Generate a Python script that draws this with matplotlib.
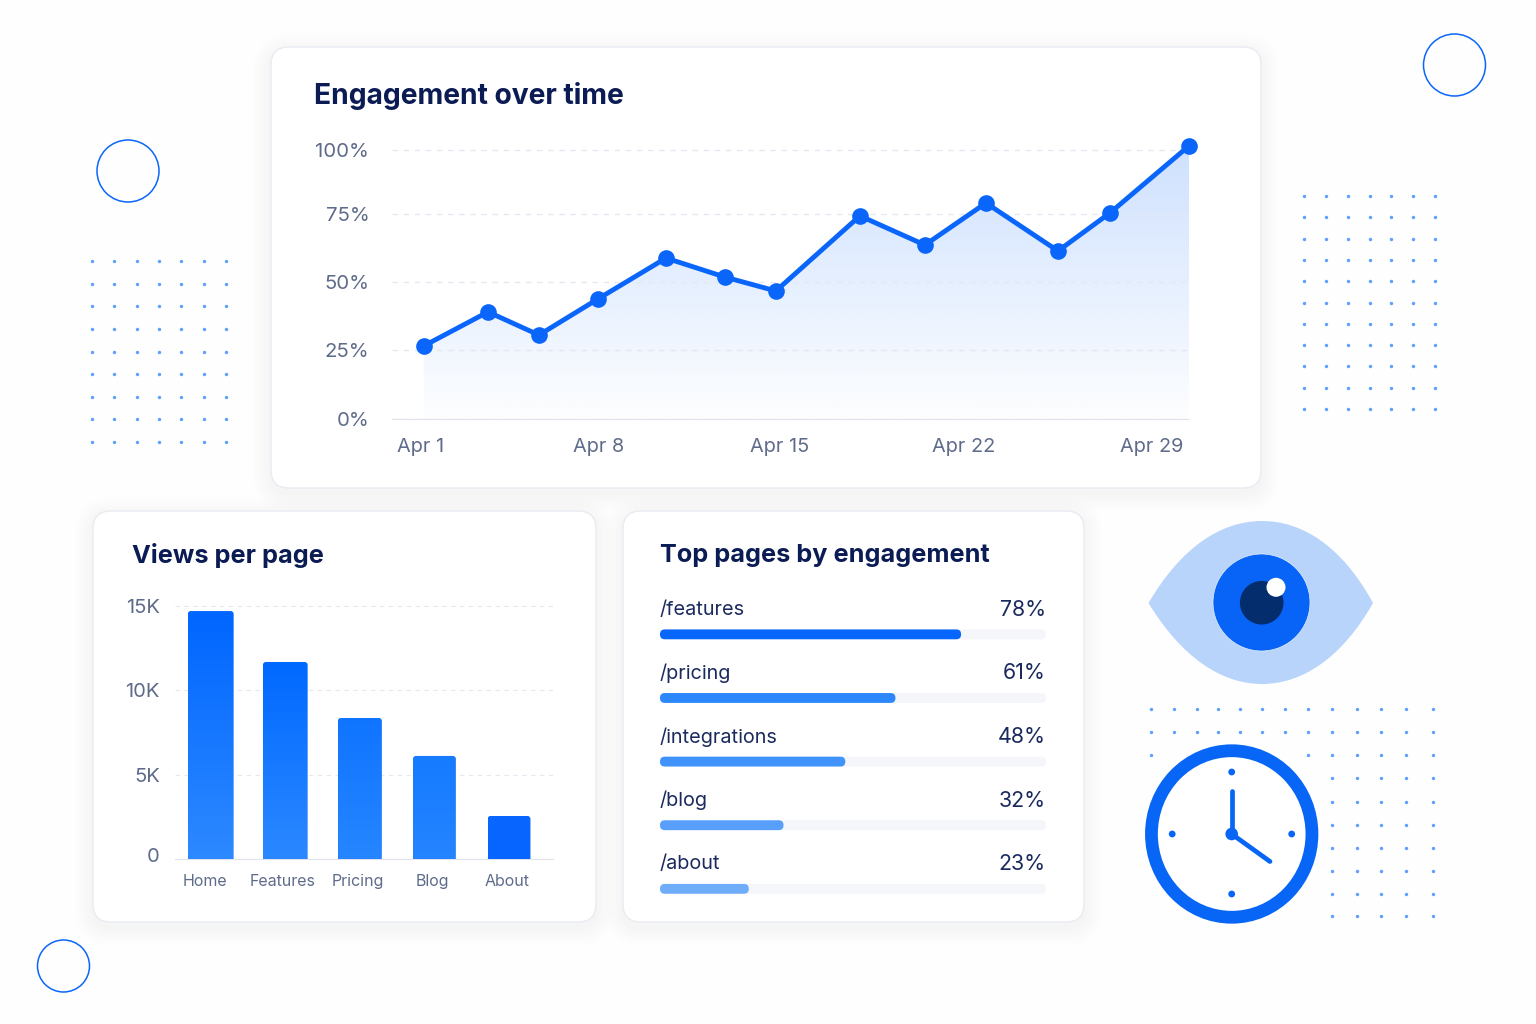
import numpy as np
import matplotlib
matplotlib.use("Agg")
import matplotlib.pyplot as plt
from matplotlib.colors import LinearSegmentedColormap, to_rgb
from matplotlib.patches import Circle, Ellipse, FancyBboxPatch, PathPatch
from matplotlib.path import Path
from matplotlib.transforms import ScaledTranslation

W, H = 1536, 1024

# engagement over time
days = [1.11, 3.57, 5.52, 7.78, 10.39, 12.65, 14.6, 17.82, 20.31, 22.65, 25.41, 27.4, 30.43]
engagement = [26.5, 39, 30.5, 43.75, 58.8, 51.8, 46.7, 74.3, 63.6, 79.3, 61.4, 75.4, 101.6]
date_ticks = [1, 7.82, 14.75, 21.8, 29]
date_labels = ["Apr 1", "Apr 8", "Apr 15", "Apr 22", "Apr 29"]
pct_ticks = [0, 25, 50, 75, 100]
pct_labels = ["0%", "25%", "50%", "75%", "100%"]

# views per page
pages = ["Home", "Features", "Pricing", "Blog", "About"]
views = [14700, 11680, 8360, 6110, 2550]
page_ticks = [-0.07, 0.98, 1.98, 2.98, 3.98]
view_ticks = [0, 5000, 10000, 15000]
view_labels = ["0", "5K", "10K", "15K"]

# top pages
routes = ["/features", "/pricing", "/integrations", "/blog", "/about"]
route_pct = [78, 61, 48, 32, 23]

BLUE = "#0a66fb"
NAVY = "#0b1c54"
MUTED = "#5f6b8a"
GRID = "#e4e8f1"

plt.rcParams["font.family"] = ["Inter", "DejaVu Sans"]


def px_axes(fig, left, top, right, bottom):
    ax = fig.add_axes([left / W, 1 - bottom / H, (right - left) / W, (bottom - top) / H])
    ax.patch.set_alpha(0)
    for s in ax.spines.values():
        s.set_visible(False)
    ax.tick_params(length=0)
    return ax


def round_box(ax, x0, y0, w, h, radius):
    # radius in pixels, corners stay circular whatever the data scales are
    x_per_px = abs(np.diff(ax.get_xlim())[0]) / ax.bbox.width
    y_per_px = abs(np.diff(ax.get_ylim())[0]) / ax.bbox.height
    return FancyBboxPatch((x0, y0), w, h,
                          boxstyle="round,pad=0,rounding_size=%f" % (radius * x_per_px),
                          mutation_aspect=y_per_px / x_per_px,
                          transform=ax.transData)


def card(ax, left, top, right, bottom):
    for k in range(9, 0, -1):
        ax.add_patch(FancyBboxPatch((left - k * 2, top - k * 2 + 5), right - left + k * 4, bottom - top + k * 4,
                                    boxstyle="round,pad=0,rounding_size=%d" % (18 + k * 2),
                                    fc="#27447f", ec="none", alpha=0.002, zorder=1))
    ax.add_patch(FancyBboxPatch((left, top), right - left, bottom - top,
                                boxstyle="round,pad=0,rounding_size=18",
                                fc="#ffffff", ec="#e8ebf2", lw=1.0, zorder=2))


def dots(ax, xs, ys, keep=None):
    xx, yy = np.meshgrid(xs, ys)
    if keep is not None:
        mask = keep(xx, yy)
        xx, yy = xx[mask], yy[mask]
    ax.scatter(xx.ravel(), yy.ravel(), s=6, color="#5f9fff", linewidths=0, zorder=1)


fig = plt.figure(figsize=(W / 100, H / 100), dpi=100, facecolor="#fefefe")

# page layer in pixel coordinates: cards, decoration, icons
bg = fig.add_axes([0, 0, 1, 1])
bg.set_xlim(0, W)
bg.set_ylim(H, 0)
bg.axis("off")

card(bg, 271, 47, 1261, 488)
card(bg, 93, 511, 596, 922)
card(bg, 623, 511, 1084, 922)

for cx, cy, r in [(1454.5, 65, 31), (128, 171, 31), (63.5, 966, 26)]:
    bg.add_patch(Circle((cx, cy), r, fc="none", ec=BLUE, lw=1.1, zorder=1))

dots(bg, np.linspace(92, 226, 7), np.linspace(261, 442, 9))
dots(bg, np.linspace(1304, 1435, 7), np.linspace(196, 409, 11))
dots(bg, [1150.7, 1174, 1197, 1218, 1240, 1262, 1285, 1308, 1332, 1357, 1381, 1406, 1433],
     [709, 732, 755, 778, 802, 825, 848, 871, 894, 916],
     keep=lambda x, y: ~((x < 1320) & (y > 765)) & ~((x > 1160) & (x < 1300) & (y > 745)))

# eye icon
eye_verts = [(1148.5, 603), (1182, 546), (1222, 521), (1262, 521),
             (1302, 521), (1342, 546), (1373, 603),
             (1342, 658), (1302, 684), (1262, 684),
             (1222, 684), (1182, 658), (1148.5, 603)]
eye_codes = [Path.MOVETO] + [Path.CURVE4] * 12
bg.add_patch(PathPatch(Path(eye_verts, eye_codes), fc="#b8d4fb", ec="none", zorder=3))
bg.add_patch(Circle((1261.5, 602.5), 48.5, fc="#0764f6", ec="#e4eefd", lw=0.5, zorder=4))
bg.add_patch(Circle((1261.7, 602.7), 21.8, fc="#042d6e", ec="none", zorder=5))
bg.add_patch(Circle((1276, 587.3), 9.5, fc="#ffffff", ec="none", zorder=6))

# clock icon, the ring is a little taller than wide
clock_x, clock_y = 1231.7, 834
bg.add_patch(Ellipse((clock_x, clock_y), 160.5, 166.5, fc="#ffffff", ec="#0766f6", lw=9.2, zorder=3))
for dx, dy in [(0, -62), (-59.5, 0), (60, 0), (0, 60)]:
    bg.add_patch(Circle((clock_x + dx, clock_y + dy), 3.4, fc="#0766f6", ec="none", zorder=4))
bg.plot([clock_x, clock_x], [clock_y, 791], color="#0766f6", lw=3.4, solid_capstyle="round", zorder=4)
bg.plot([clock_x, 1270], [clock_y, 861.5], color="#0766f6", lw=3.4, solid_capstyle="round", zorder=4)
bg.add_patch(Circle((clock_x, clock_y), 6.3, fc="#0766f6", ec="none", zorder=5))

# card titles
bg.text(314, 96, "Engagement over time", fontsize=20.3, fontweight="bold", color=NAVY, va="center", zorder=6)
bg.text(132, 555.5, "Views per page", fontsize=18.2, fontweight="bold", color=NAVY, va="center", zorder=6)
bg.text(659.5, 555.5, "Top pages by engagement", fontsize=18.2, fontweight="bold", color=NAVY, va="center", zorder=6)

# line chart, the y scale follows the spacing of the gridlines
y_val = [0, 25, 50, 75, 100, 200]
y_px = [0, 69, 137, 205, 269, 525]
ax1 = px_axes(fig, 392, 130, 1189, 419)
ax1.set_yscale("function", functions=(lambda v: np.interp(v, y_val, y_px),
                                      lambda p: np.interp(p, y_px, y_val)))
ax1.set_xlim(-0.11, 30.43)
ax1.set_ylim(0, 107.8)
ax1.set_yticks(pct_ticks, pct_labels)
ax1.set_xticks(date_ticks, date_labels)
ax1.minorticks_off()
ax1.tick_params(axis="y", pad=16.3, labelsize=14.7, labelcolor=MUTED)
ax1.tick_params(axis="x", pad=13.5, labelsize=14.3, labelcolor=MUTED)
ax1.grid(axis="y", color=GRID, lw=1.0, ls=(0, (4, 4)))
ax1.spines["bottom"].set_visible(True)
ax1.spines["bottom"].set_color("#dfe3ec")
ax1.set_axisbelow(True)

area = ax1.fill_between(days, engagement, 0, facecolor="none", edgecolor="none")
rgba = np.ones((256, 1, 4))
rgba[..., :3] = to_rgb("#0a66fb")
rgba[:, 0, 3] = np.linspace(0.2, 0.01, 256)
shade = bg.imshow(rgba, extent=(392, 1190, 419, 145), aspect="auto", zorder=3, interpolation="bilinear")
shade.set_clip_path(area.get_paths()[0], transform=ax1.transData)
bg.set_xlim(0, W)
bg.set_ylim(H, 0)

ax1.plot(days, engagement, color=BLUE, lw=3.5, marker="o", ms=12, mew=0, clip_on=False, zorder=5)

# bar chart
ax2 = px_axes(fig, 175, 590, 553, 859)
ax2.set_xlim(-0.469, 4.6)
ax2.set_ylim(0, 15000 * 269 / 253)
ax2.set_yticks(view_ticks, view_labels)
ax2.set_xticks(page_ticks, pages)
ax2.tick_params(axis="y", pad=11, labelsize=14.5, labelcolor=MUTED)
ax2.tick_params(axis="x", pad=11, labelsize=11.5, labelcolor=MUTED)
ax2.grid(axis="y", color=GRID, lw=0.8, ls=(0, (4, 4)))
ax2.spines["bottom"].set_visible(True)
ax2.spines["bottom"].set_color("#dfe3ec")
ax2.set_axisbelow(True)
# the zero label sits a little above the baseline
zero_label = ax2.get_yticklabels()[0]
zero_label.set_transform(zero_label.get_transform() + ScaledTranslation(0, 4 / 100, fig.dpi_scale_trans))

bar_tops = ["#0066ff", "#0069ff", "#0f74ff", "#157bff", "#0a66ff"]
bar_bottoms = ["#2d89ff", "#2b88ff", "#2686ff", "#2584ff", "#0766ff"]
bar_widths = [0.615, 0.6, 0.59, 0.575, 0.575]
bars = ax2.bar(np.arange(len(views)) + 0.01, views, width=bar_widths, facecolor="none", edgecolor="none")
for bar, c_top, c_bottom in zip(bars, bar_tops, bar_bottoms):
    x0, y0, w, h = bar.get_x(), bar.get_y(), bar.get_width(), bar.get_height()
    cmap = LinearSegmentedColormap.from_list("bar", [c_top, c_bottom])
    img = ax2.imshow(np.linspace(0, 1, 256)[:, None], extent=(x0, x0 + w, y0, y0 + h), cmap=cmap,
                     aspect="auto", zorder=3)
    # box reaches below the baseline so only the top corners are rounded
    img.set_clip_path(round_box(ax2, x0, y0 - 500, w, h + 500, 3))
ax2.set_xlim(-0.469, 4.6)
ax2.set_ylim(0, 15000 * 269 / 253)

# progress rows
ax3 = px_axes(fig, 660, 600, 1046, 920)
ax3.set_xlim(0, 100)
ax3.set_ylim(4.49, -0.54)
ax3.set_xticks([])
ax3.set_yticks([])

fill_colors = ["#0766fb", "#2b87fb", "#3f93fb", "#589ffb", "#6fadfb"]
rows = np.arange(len(routes))
tracks = ax3.barh(rows, [100] * len(routes), height=0.155, facecolor="none", edgecolor="none")
fills = ax3.barh(rows, route_pct, height=0.155, facecolor="none", edgecolor="none")
for i, (track, bar) in enumerate(zip(tracks, fills)):
    p = round_box(ax3, track.get_x(), track.get_y(), track.get_width(), track.get_height(), 4.8)
    p.set(fc="#f5f6fa", ec="none", zorder=2)
    ax3.add_patch(p)
    p = round_box(ax3, bar.get_x(), bar.get_y(), bar.get_width(), bar.get_height(), 4.8)
    p.set(fc=fill_colors[i], ec="none", zorder=3)
    ax3.add_patch(p)
    ax3.annotate(routes[i], (0, i), xytext=(0, 24.5), textcoords="offset pixels",
                 fontsize=14.3, color="#1a2a5e", va="center", ha="left")
    ax3.annotate("%d%%" % route_pct[i], (100, i), xytext=(0, 24.5), textcoords="offset pixels",
                 fontsize=15.4, color="#1a2a5e", va="center", ha="right")

fig.savefig("out.png", dpi=100, facecolor=fig.get_facecolor())
